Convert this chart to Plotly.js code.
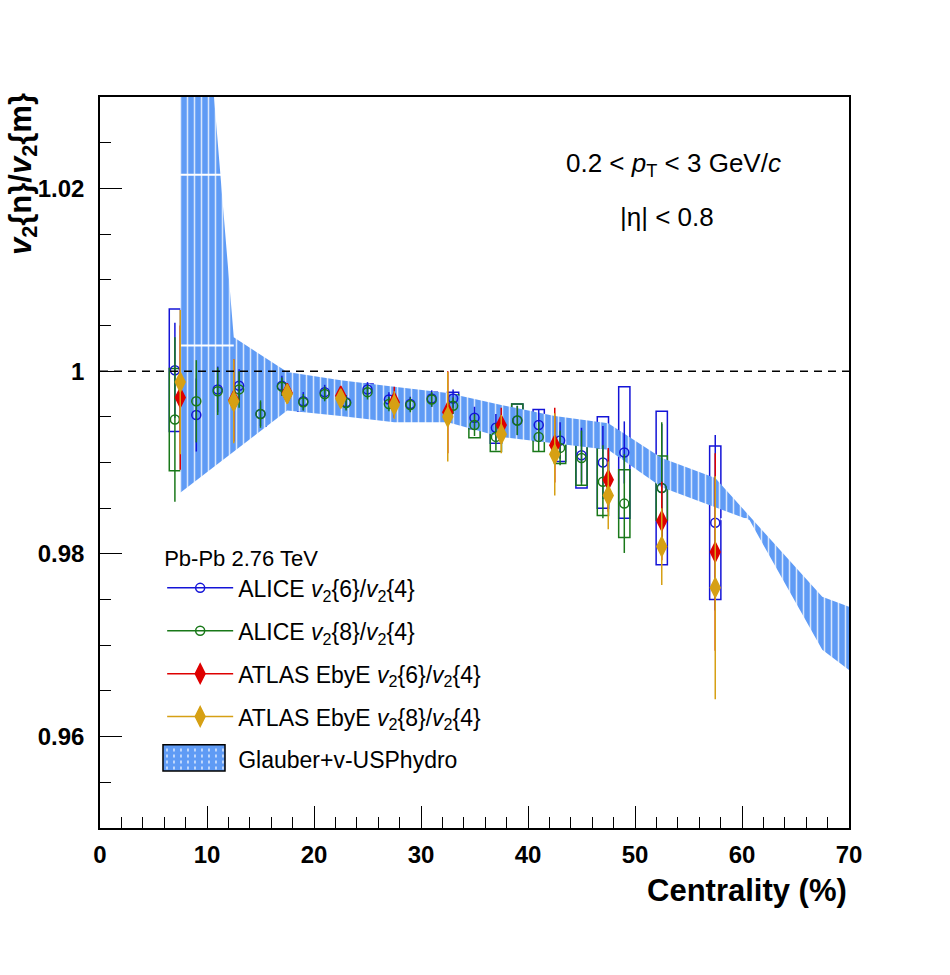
<!DOCTYPE html>
<html>
<head>
<meta charset="utf-8">
<script src="https://cdn.plot.ly/plotly-3.0.1.min.js"></script>
<style>
  body { margin: 0; background: #fff; }
  #grafico { width: 950px; height: 975px; }
</style>
</head>
<body>
<div id="grafico"></div>
<script>
// ALICE v2{6}/v2{4}: centrality, value, stat error, syst error (box half height)
const alice6X = [7, 9, 11, 13, 15, 17, 19, 21, 23, 25, 27, 29, 31, 33, 35, 37, 39, 41, 43, 45, 47, 49, 52.5, 57.5];
const alice6Y = [1.0001, 0.9952, 0.9980, 0.9984, 0.9953, 0.9984, 0.9967, 0.9977, 0.9966, 0.9980, 0.9969, 0.9964,
                 0.9970, 0.9970, 0.9949, 0.9938, 0.9946, 0.9941, 0.9924, 0.9908, 0.9900, 0.9911, 0.9872, 0.9834];
const alice6Stat = [0.0052, 0.0040, 0.0025, 0.0018, 0.0013, 0.0011, 0.0010, 0.0008, 0.0008, 0.0008, 0.0008, 0.0008,
                    0.0009, 0.0010, 0.0012, 0.0015, 0.0016, 0.0017, 0.0020, 0.0030, 0.0040, 0.0034, 0.0070, 0.0096];
const alice6Sys = [0.0067, 0.0051, 0.0032, 0.0015, 0.0013, 0.0011, 0.0011, 0.0006, 0.0004, 0.0006, 0.0005, 0.0006,
                   0.0007, 0.0007, 0.0012, 0.0017, 0.0018, 0.0017, 0.0023, 0.0036, 0.0050, 0.0072, 0.0084, 0.0084];

// ALICE v2{8}/v2{4}
const alice8X = [7, 9, 11, 13, 15, 17, 19, 21, 23, 25, 27, 29, 31, 33, 35, 37, 39, 41, 43, 45, 47, 49, 52.5];
const alice8Y = [0.9947, 0.9967, 0.9978, 0.9980, 0.9953, 0.9983, 0.9966, 0.9975, 0.9965, 0.9977, 0.9964, 0.9963,
                 0.9969, 0.9962, 0.9941, 0.9928, 0.9946, 0.9928, 0.9916, 0.9905, 0.9879, 0.9855, 0.9872];
const alice8Stat = [0.0090, 0.0045, 0.0026, 0.0020, 0.0015, 0.0010, 0.0009, 0.0008, 0.0008, 0.0008, 0.0008, 0.0008,
                    0.0008, 0.0009, 0.0012, 0.0015, 0.0016, 0.0016, 0.0019, 0.0030, 0.0040, 0.0054, 0.0072];
const alice8Sys = [0.0056, 0.0042, 0.0024, 0.0012, 0.0012, 0.0009, 0.0008, 0.0005, 0.0004, 0.0005, 0.0005, 0.0006,
                   0.0006, 0.0012, 0.0014, 0.0016, 0.0018, 0.0016, 0.0017, 0.0030, 0.0037, 0.0037, 0.0035];

// ATLAS EbyE
const atlasX = [7.5, 12.5, 17.5, 22.5, 27.5, 32.5, 37.5, 42.5, 47.5, 52.5, 57.5];
const atlas6Y = [0.9971, 0.9968, 0.9976, 0.9973, 0.9966, 0.9955, 0.9941, 0.9919, 0.9881, 0.9836, 0.9802];
const atlas6Err = [0.0079, 0.0045, 0.0008, 0.0008, 0.0017, 0.0045, 0.0019, 0.0041, 0.0035, 0.0043, 0.0108];
const atlas8Y = [0.9988, 0.9967, 0.9975, 0.9970, 0.9963, 0.9950, 0.9931, 0.9909, 0.9864, 0.9808, 0.9763];
const atlas8Err = [0.0079, 0.0046, 0.0009, 0.0008, 0.0015, 0.0049, 0.0021, 0.0045, 0.0037, 0.0042, 0.0122];

// Glauber+v-USPhydro band edges
const hydroUpX = [7.5, 12.5, 17.5, 22.5, 27.5, 32.5, 37.5, 42.5, 47.5, 52.5, 57.5, 67.5, 70];
const hydroUpY = [1.075, 1.0037, 0.9999, 0.9990, 0.9983, 0.9976, 0.9963, 0.9951, 0.9943, 0.9905, 0.9883, 0.9753, 0.9742];
const hydroLoX = [7.5, 17.5, 22.5, 27.5, 32.5, 37.5, 42.5, 47.5, 52.5, 57.5, 60.7, 67.5, 70];
const hydroLoY = [0.9867, 0.9957, 0.9951, 0.9944, 0.9944, 0.9928, 0.9921, 0.9914, 0.9873, 0.9851, 0.9837, 0.9695, 0.9673];
// white lines inside the band
const hydroLineX = [7.5, 11.5, null, 7.5, 12.5, null, 58.0, 60.5];
const hydroLineY = [1.0215, 1.0215, null, 1.0028, 1.0028, null, 0.9838, 0.9838];

const azul = 'rgb(20,20,215)';
const verde = 'rgb(25,120,25)';
const vermelho = 'rgb(222,0,0)';
const ouro = 'rgb(214,160,20)';
const faixa = 'rgb(95,155,245)';
const padrao = {shape: '|', fgcolor: 'white', fgopacity: 0.75, bgcolor: faixa, size: 7, solidity: 0.22};

function caixas(x, y, sys, cor) {
  return {
    type: 'bar', x: x,
    base: y.map((v, i) => v - sys[i]),
    y: sys.map(s => 2 * s),
    width: 1.05,
    marker: {color: 'rgba(0,0,0,0)', line: {color: cor, width: 1.5}},
    showlegend: false, hoverinfo: 'skip'
  };
}

function pontos(x, y, err, cor, simbolo, tamanho) {
  return {
    type: 'scatter', mode: 'markers', x: x, y: y,
    error_y: {type: 'data', array: err, color: cor, thickness: 1.5, width: 0},
    marker: {symbol: simbolo, size: tamanho, color: cor, line: {color: cor, width: 1.5}},
    showlegend: false, hoverinfo: 'x+y'
  };
}

function legenda(nome, cor, simbolo, tamanho, grupo) {
  return {
    type: 'scatter', mode: 'lines+markers', x: [null], y: [null], name: nome,
    line: {color: cor, width: 1.5},
    marker: {symbol: simbolo, size: tamanho, color: cor, line: {color: cor, width: 1.5}},
    legendgroup: grupo, showlegend: true
  };
}

var data = [
  {
    type: 'scatter', mode: 'lines',
    x: hydroUpX.concat(hydroLoX.slice().reverse()),
    y: hydroUpY.concat(hydroLoY.slice().reverse()),
    fill: 'toself', fillcolor: faixa, fillpattern: padrao,
    line: {width: 0, color: faixa},
    showlegend: false, hoverinfo: 'skip'
  },
  {
    type: 'scatter', mode: 'lines', x: hydroLineX, y: hydroLineY,
    line: {color: 'white', width: 2}, connectgaps: false,
    showlegend: false, hoverinfo: 'skip'
  },
  caixas(alice6X, alice6Y, alice6Sys, azul),
  caixas(alice8X, alice8Y, alice8Sys, verde),
  pontos(alice6X, alice6Y, alice6Stat, azul, 'circle-open', 9),
  pontos(alice8X, alice8Y, alice8Stat, verde, 'circle-open', 9),
  pontos(atlasX, atlas6Y, atlas6Err, vermelho, 'diamond-tall', 14),
  pontos(atlasX, atlas8Y, atlas8Err, ouro, 'diamond-tall', 14),
  legenda('ALICE <i>v</i><sub>2</sub>{6}/<i>v</i><sub>2</sub>{4}', azul, 'circle-open', 9, 'a'),
  legenda('ALICE <i>v</i><sub>2</sub>{8}/<i>v</i><sub>2</sub>{4}', verde, 'circle-open', 9, 'b'),
  legenda('ATLAS EbyE <i>v</i><sub>2</sub>{6}/<i>v</i><sub>2</sub>{4}', vermelho, 'diamond-tall', 14, 'c'),
  legenda('ATLAS EbyE <i>v</i><sub>2</sub>{8}/<i>v</i><sub>2</sub>{4}', ouro, 'diamond-tall', 14, 'd'),
  {
    type: 'scatter', mode: 'none', x: [null], y: [null], name: 'Glauber+v-USPhydro',
    legendgroup: 'e', showlegend: true
  }
];

// legend swatch for the band (paper coordinates)
const swatch = {x0: 0.0841, x1: 0.1669, y0: 0.078, y1: 0.114};
var shapes = [
  {type: 'line', xref: 'paper', x0: 0, x1: 1, yref: 'y', y0: 1, y1: 1, layer: 'above',
   line: {color: 'black', width: 1.5, dash: '8px,6px'}},
  {type: 'rect', xref: 'paper', yref: 'paper', x0: swatch.x0, x1: swatch.x1, y0: swatch.y0, y1: swatch.y1,
   fillcolor: faixa, line: {width: 0}, layer: 'above'}
];
for (let px = 4; px < 62; px += 7) {
  const xp = swatch.x0 + px / 749;
  shapes.push({type: 'line', xref: 'paper', yref: 'paper', x0: xp, x1: xp, y0: swatch.y0 + 0.002, y1: swatch.y1 - 0.002,
               layer: 'above', line: {color: 'rgba(255,255,255,0.8)', width: 1.5, dash: 'dot'}});
}
shapes.push({type: 'rect', xref: 'paper', yref: 'paper', x0: swatch.x0, x1: swatch.x1, y0: swatch.y0, y1: swatch.y1,
             line: {color: 'black', width: 1.5}, layer: 'above'});

var layout = {
  width: 950, height: 975,
  margin: {l: 100, r: 101, t: 97, b: 147},
  paper_bgcolor: 'white', plot_bgcolor: 'white',
  barmode: 'overlay',
  font: {family: '"Liberation Sans", Arial, sans-serif', color: 'black'},
  showlegend: true,
  legend: {
    x: 0.083, y: 0.397, xanchor: 'left', yanchor: 'top',
    bgcolor: 'rgba(0,0,0,0)', font: {size: 23},
    title: {text: 'Pb-Pb 2.76 TeV', font: {size: 22}},
    tracegroupgap: 10, traceorder: 'grouped', itemwidth: 66
  },
  xaxis: {
    range: [0, 70], tick0: 0, dtick: 10,
    ticks: 'inside', ticklen: 22, tickwidth: 1, tickcolor: 'black',
    minor: {dtick: 2, tick0: 0, ticks: 'inside', ticklen: 11, tickwidth: 1, tickcolor: 'black', showgrid: false},
    showline: true, linecolor: 'black', linewidth: 1.5, mirror: true,
    showgrid: false, zeroline: false,
    tickfont: {size: 24, weight: 'bold'}, ticklabelstandoff: 4
  },
  yaxis: {
    range: [0.95, 1.03], tick0: 0.96, dtick: 0.02,
    ticks: 'inside', ticklen: 22, tickwidth: 1, tickcolor: 'black',
    minor: {dtick: 0.005, tick0: 0.95, ticks: 'inside', ticklen: 11, tickwidth: 1, tickcolor: 'black', showgrid: false},
    showline: true, linecolor: 'black', linewidth: 1.5, mirror: true,
    showgrid: false, zeroline: false,
    tickfont: {size: 24, weight: 'bold'}, ticklabelstandoff: 9
  },
  shapes: shapes,
  annotations: [
    {xref: 'paper', yref: 'paper', x: 0.766, y: 0.907, xanchor: 'center', yanchor: 'middle', showarrow: false,
     text: '0.2 &lt; <i>p</i><sub>T</sub> &lt; 3 GeV/<i>c</i>', font: {size: 26}},
    {xref: 'paper', yref: 'paper', x: 0.757, y: 0.836, xanchor: 'center', yanchor: 'middle', showarrow: false,
     text: '|η| &lt; 0.8', font: {size: 26}},
    {xref: 'paper', yref: 'paper', x: -0.103, y: 1.008, xanchor: 'center', yanchor: 'top',
     textangle: -90, showarrow: false,
     text: '<b><i>v</i><sub>2</sub>{n}/<i>v</i><sub>2</sub>{m}</b>', font: {size: 31, weight: 'bold'}},
    {xref: 'paper', yref: 'paper', x: 1, y: -0.085, xanchor: 'right', yanchor: 'middle',
     showarrow: false, text: '<b>Centrality (%)</b>', font: {size: 31, weight: 'bold'}}
  ]
};

Plotly.newPlot(document.getElementById('grafico'), data, layout, {displayModeBar: false});
</script>
</body>
</html>
